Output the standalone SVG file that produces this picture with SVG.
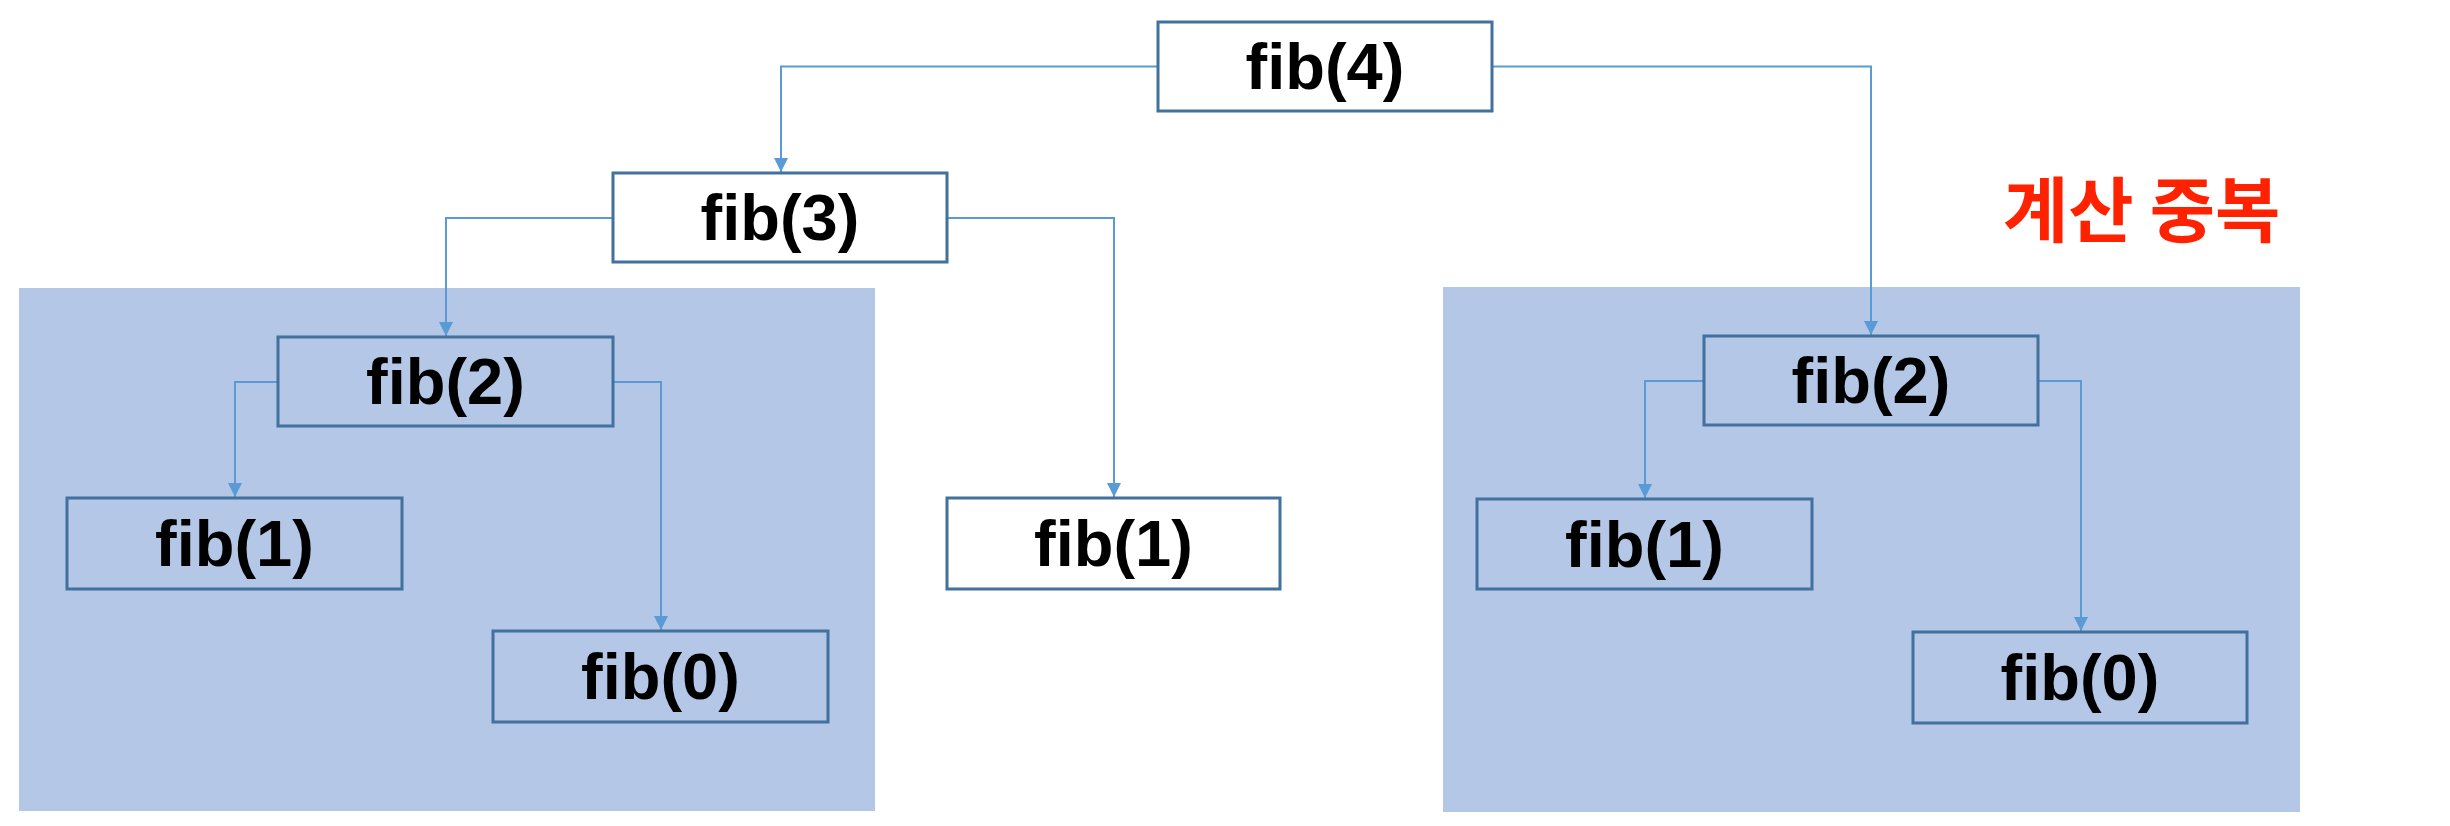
<svg xmlns="http://www.w3.org/2000/svg" width="2450" height="826" viewBox="0 0 2450 826">
  <style>
    .bg { fill: #B4C7E7; }
    .box { fill: none; stroke: #41719C; stroke-width: 3; }
    .boxw { fill: #FFFFFF; stroke: #41719C; stroke-width: 3; }
    .lbl { font-family: "Liberation Sans", Arial, sans-serif; font-weight: bold; font-size: 65px; fill: #000000; text-anchor: middle; }
    .conn { fill: none; stroke: #5B9BD5; stroke-width: 2; }
    .note { font-family: "Noto Sans CJK KR", "Noto Sans", sans-serif; font-weight: bold; font-size: 71px; fill: #FF2200; }
  </style>
  <defs>
    <marker id="arrow" viewBox="0 0 14 14" refX="14" refY="7" markerWidth="14" markerHeight="14" markerUnits="userSpaceOnUse" orient="auto">
      <path d="M0,0 L14,7 L0,14 Z" fill="#5B9BD5"/>
    </marker>
  </defs>
  <rect width="2450" height="826" fill="#FFFFFF"/>

  <g id="duplicate-left">
    <rect class="bg" x="19" y="288" width="856" height="523"/>
  </g>
  <g id="duplicate-right">
    <rect class="bg" x="1443" y="287" width="857" height="525"/>
  </g>

  <g id="connectors">
    <path class="conn" d="M1158,66.5 H781 V172" marker-end="url(#arrow)"/>
    <path class="conn" d="M1492,66.5 H1871 V335" marker-end="url(#arrow)"/>
    <path class="conn" d="M613,218 H446 V336" marker-end="url(#arrow)"/>
    <path class="conn" d="M947,218 H1114 V497" marker-end="url(#arrow)"/>
    <path class="conn" d="M278,382 H235 V497" marker-end="url(#arrow)"/>
    <path class="conn" d="M613,382 H661 V630" marker-end="url(#arrow)"/>
    <path class="conn" d="M1704,381 H1645 V498" marker-end="url(#arrow)"/>
    <path class="conn" d="M2038,381 H2081 V631" marker-end="url(#arrow)"/>
  </g>

  <g id="fib4">
    <rect class="boxw" x="1158" y="22" width="334" height="89"/>
    <text class="lbl" x="1325" y="89">fib(4)</text>
  </g>
  <g id="fib3">
    <rect class="boxw" x="613" y="173" width="334" height="89"/>
    <text class="lbl" x="780" y="240">fib(3)</text>
  </g>
  <g id="fib2-left">
    <rect class="box" x="278" y="337" width="335" height="89"/>
    <text class="lbl" x="445.5" y="404">fib(2)</text>
  </g>
  <g id="fib1-left">
    <rect class="box" x="67" y="498" width="335" height="91"/>
    <text class="lbl" x="234.5" y="566">fib(1)</text>
  </g>
  <g id="fib0-left">
    <rect class="box" x="493" y="631" width="335" height="91"/>
    <text class="lbl" x="660.5" y="699">fib(0)</text>
  </g>
  <g id="fib1-mid">
    <rect class="boxw" x="947" y="498" width="333" height="91"/>
    <text class="lbl" x="1113.5" y="566">fib(1)</text>
  </g>
  <g id="fib2-right">
    <rect class="box" x="1704" y="336" width="334" height="89"/>
    <text class="lbl" x="1871" y="403">fib(2)</text>
  </g>
  <g id="fib1-right">
    <rect class="box" x="1477" y="499" width="335" height="90"/>
    <text class="lbl" x="1644.5" y="567">fib(1)</text>
  </g>
  <g id="fib0-right">
    <rect class="box" x="1913" y="632" width="334" height="91"/>
    <text class="lbl" x="2080" y="700">fib(0)</text>
  </g>

  <g id="label-duplicate">
    <text class="note" x="2003" y="236">계산 중복</text>
  </g>
</svg>
